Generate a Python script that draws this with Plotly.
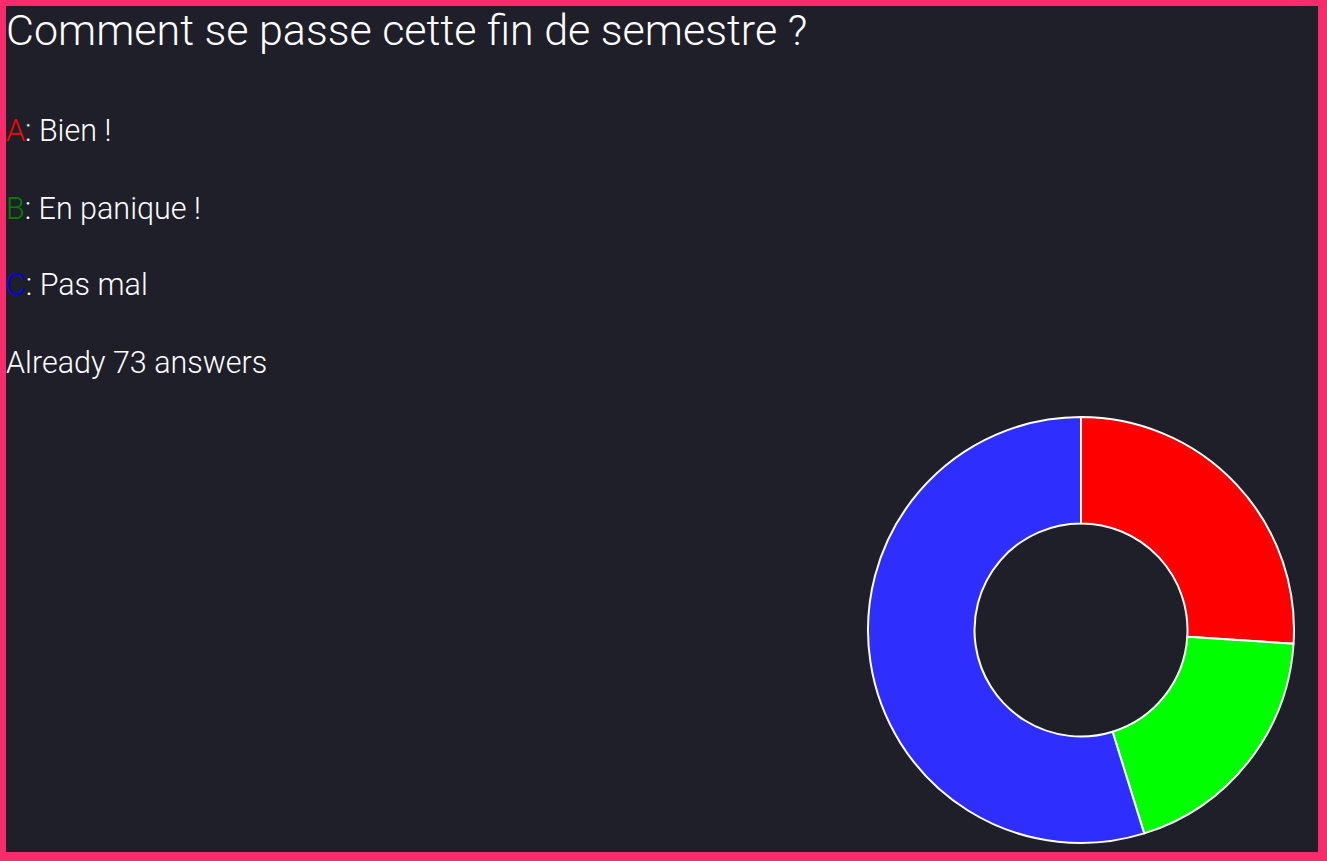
import plotly.graph_objects as go

W, H = 1327, 861

title_text = "Comment se passe cette fin de semestre ?"
option_letters = ["A", "B", "C"]
option_labels = ["Bien !", "En panique !", "Pas mal"]
letter_colors = ["#ff0000", "#008000", "#0000ff"]
slice_colors = ["#ff0000", "#00ff00", "#2e2eff"]
answer_counts = [19, 14, 40]
total_answers = sum(answer_counts)

def px(x):
    return x / W

def py(y):
    return 1 - y / H

fig = go.Figure()

cx, cy, r = 1081, 630, 213
fig.add_trace(go.Pie(
    labels=option_letters,
    values=answer_counts,
    hole=0.5,
    sort=False,
    direction="clockwise",
    rotation=0,
    textinfo="none",
    marker=dict(colors=slice_colors, line=dict(color="#ffffff", width=2)),
    domain=dict(x=[px(cx - r), px(cx + r)], y=[py(cy + r), py(cy - r)]),
    showlegend=False,
))

font_family = "Roboto"
annotations = [
    dict(text=title_text, x=px(5), y=py(30), font=dict(size=43, color="#ffffff", family=font_family, weight=300)),
]
ys = [131, 208, 285]
for letter, label, col, yy in zip(option_letters, option_labels, letter_colors, ys):
    annotations.append(dict(
        text=f"<span style='color:{col}'>{letter}</span>: {label}",
        x=px(5), y=py(yy), font=dict(size=30.5, color="#ffffff", family=font_family, weight=300),
    ))
annotations.append(dict(
    text=f"Already {total_answers} answers", x=px(5), y=py(362),
    font=dict(size=30.5, color="#ffffff", family=font_family, weight=300),
))
for a in annotations:
    a.update(xref="paper", yref="paper", xanchor="left", yanchor="middle", showarrow=False, borderpad=0)

fig.update_layout(
    width=W, height=H,
    margin=dict(l=0, r=0, t=0, b=0),
    paper_bgcolor="#f92c6b",
    plot_bgcolor="#1e1f28",
    annotations=annotations,
    shapes=[dict(type="rect", xref="paper", yref="paper", x0=px(6), x1=px(1318), y0=py(852), y1=py(6),
                 fillcolor="#1e1f28", line=dict(width=0), layer="below")],
)

fig.write_html("out.html")
